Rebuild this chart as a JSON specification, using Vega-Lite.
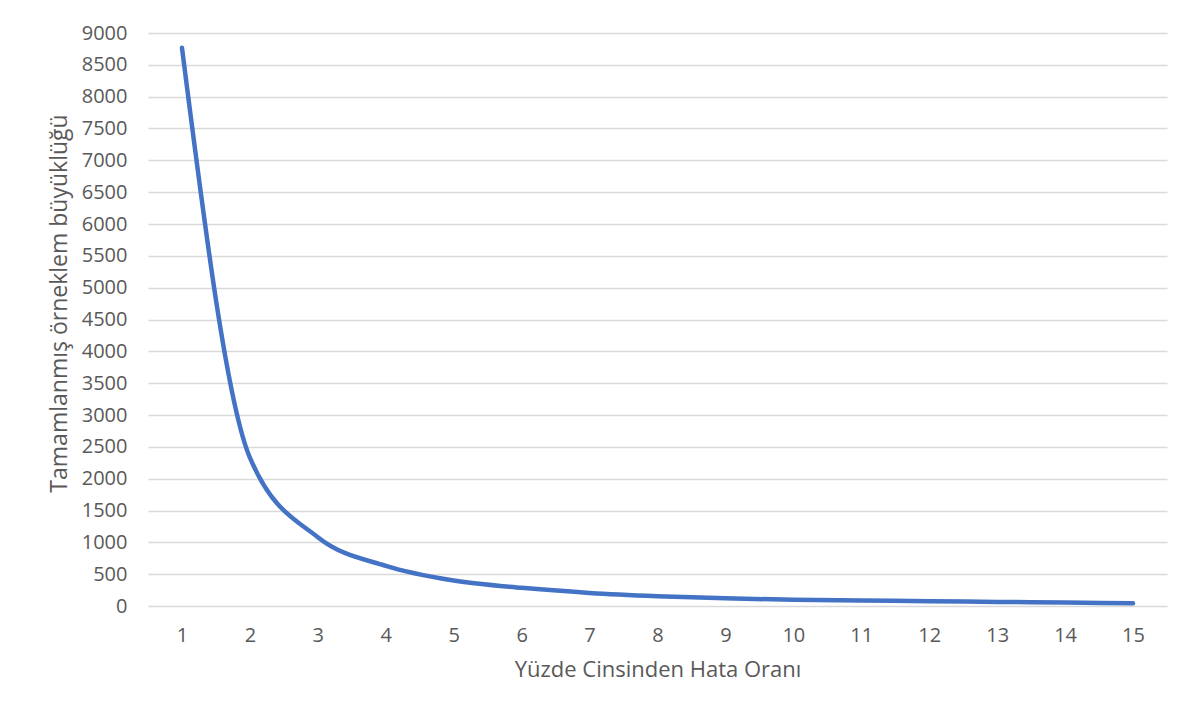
{
  "$schema": "https://vega.github.io/schema/vega-lite/v6.json",
  "autosize": "none",
  "width": 1019,
  "height": 573,
  "padding": {"left": 148, "top": 33, "right": 29, "bottom": 114},
  "background": "white",
  "data": {
    "values": [
      {"hata": 1, "n": 8768},
      {"hata": 2, "n": 2330},
      {"hata": 3, "n": 1080},
      {"hata": 4, "n": 630},
      {"hata": 5, "n": 400},
      {"hata": 6, "n": 285},
      {"hata": 7, "n": 206},
      {"hata": 8, "n": 155},
      {"hata": 9, "n": 120},
      {"hata": 10, "n": 98},
      {"hata": 11, "n": 86},
      {"hata": 12, "n": 75},
      {"hata": 13, "n": 64},
      {"hata": 14, "n": 54},
      {"hata": 15, "n": 43}
    ]
  },
  "mark": {"type": "line", "color": "#4472C4", "strokeWidth": 4.5, "strokeCap": "round", "strokeJoin": "round", "interpolate": "monotone"},
  "encoding": {
    "x": {
      "field": "hata",
      "type": "ordinal",
      "scale": {"type": "point", "padding": 0.5},
      "axis": {
        "title": "Yüzde Cinsinden Hata Oranı",
        "labelAngle": 0,
        "ticks": false,
        "domain": false,
        "grid": false,
        "labelPadding": 19,
        "titlePadding": 14
      }
    },
    "y": {
      "field": "n",
      "type": "quantitative",
      "scale": {"domain": [0, 9000], "nice": false},
      "axis": {
        "title": "Tamamlanmış örneklem büyüklüğü",
        "format": "d",
        "values": [0, 500, 1000, 1500, 2000, 2500, 3000, 3500, 4000, 4500, 5000, 5500, 6000, 6500, 7000, 7500, 8000, 8500, 9000],
        "ticks": false,
        "domain": false,
        "grid": true,
        "gridColor": "#d9d9d9",
        "gridWidth": 1.5,
        "labelPadding": 21,
        "titlePadding": 10,
        "titleFontSize": 23,
        "titleY": 270
      }
    }
  },
  "config": {
    "view": {"stroke": null},
    "font": "Open Sans",
    "axis": {
      "labelFont": "Open Sans",
      "titleFont": "Open Sans",
      "labelFontSize": 20,
      "titleFontSize": 22,
      "labelColor": "#595959",
      "titleColor": "#595959",
      "titleFontWeight": "normal"
    }
  }
}
